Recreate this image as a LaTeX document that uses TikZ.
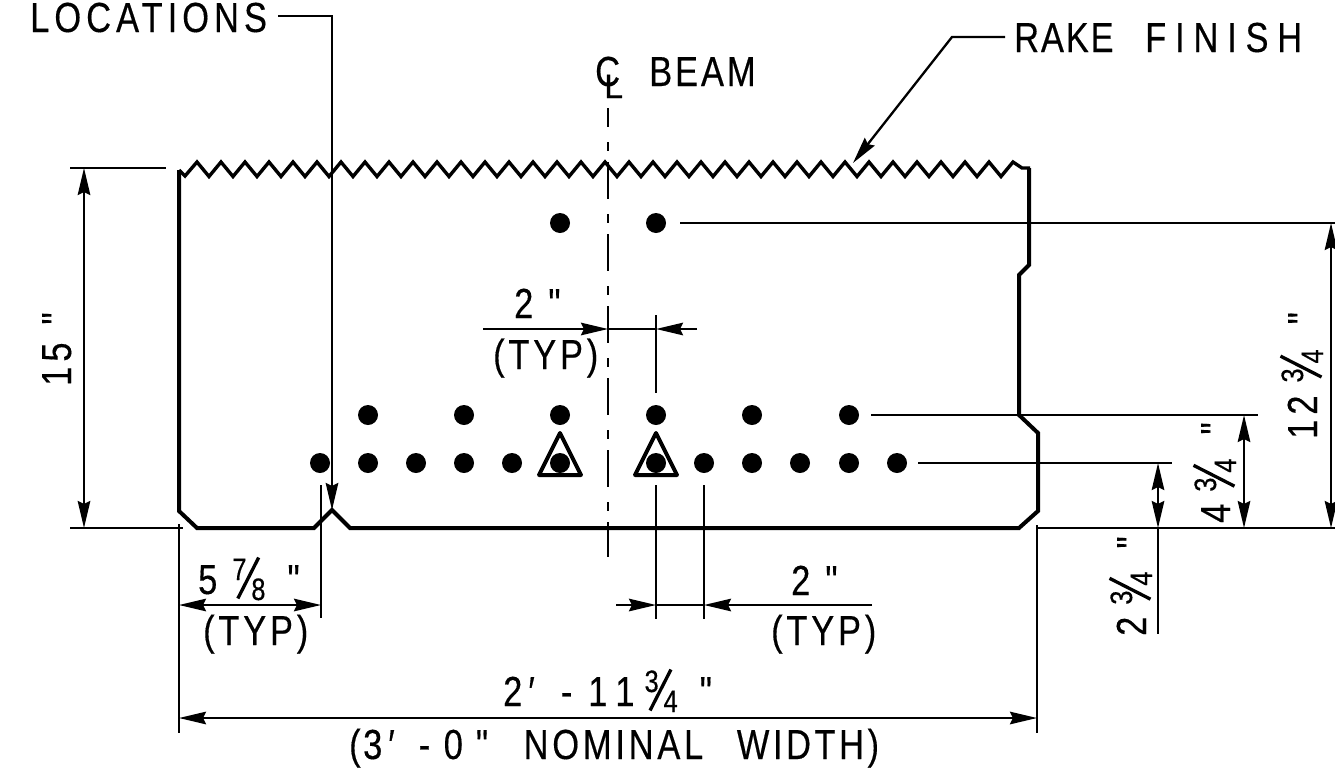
\documentclass[tikz,border=0pt]{standalone}
\usepackage{fontspec}
\usepackage{graphicx}
\setmainfont{Liberation Sans}
\newfontface\cadface{Liberation Sans}[FakeStretch=0.82,FakeBold=0.35]
\newfontface\cadwide{Liberation Sans}[FakeBold=0.35]
\usetikzlibrary{arrows.meta}
\newcommand{\lsp}[1]{\addfontfeature{LetterSpace=#1}}
\newcommand{\cadfrac}[2]{{\fontsize{31}{31}\selectfont\rlap{\raisebox{14pt}{#1}}\rlap{\kern 4pt\raisebox{-7pt}{\rotatebox[origin=c]{-27}{\rule{3.3pt}{46pt}}}}\kern 19pt\raisebox{-6pt}{#2}}}
\tikzset{
  thin dim/.style={line width=2.3pt},
  outline/.style={line width=4pt,line join=miter},
  dimhead/.style={-{Stealth[length=27pt,width=12.5pt,inset=3pt]}},
  dimboth/.style={{Stealth[length=27pt,width=12.5pt,inset=3pt]}-{Stealth[length=27pt,width=12.5pt,inset=3pt]}},
  label/.style={inner sep=0pt,anchor=base west,font=\fontsize{42}{42}\selectfont\cadface},
  centre line/.style={line width=2.3pt,dash pattern=on 37pt off 15pt on 9pt off 11pt,dash phase=18pt},
  bolt/.style={circle,fill=black,minimum size=20pt,inner sep=0pt},
  marker/.style={line width=4pt,line join=round}
}
\begin{document}
\begin{tikzpicture}[x=1pt,y=-1pt]
\useasboundingbox (0,0) rectangle (1335,774);

% outline with raked top
\draw[outline] (1029,168) -- (1029,265) -- (1019,275) -- (1019,415) -- (1038,433) -- (1038,511) -- (1019,528)
  -- (350,528) -- (332,510) -- (314,528) -- (197,528) -- (179,511) -- (179,170);
\draw[line width=3.4pt,line join=miter] (179,170) -- (185,176)
  \foreach \k in {0,...,33} { -- ({197+24*\k},162) -- ({209+24*\k},176.5) }
  -- (1013,162) -- (1022,168) -- (1030,168);

% centre line
\draw[centre line] (608,108) -- (608,557);

% bolts
\foreach \x/\n in {560/a,656/b} \node[bolt] (t\n) at (\x,223) {};
\foreach \x/\n in {368/a,464/b,560/c,656/d,752/e,849/f} \node[bolt] (m\n) at (\x,415) {};
\foreach \x/\n in {320/a,368/b,416/c,464/d,512/e,560/f,656/g,704/h,752/i,800/j,849/k,897/l} \node[bolt] (l\n) at (\x,463) {};
\draw[marker] (560,433) -- (581,475) -- (539,475) -- cycle;
\draw[marker] (656,433) -- (677,475) -- (635,475) -- cycle;

% extension lines
\draw[thin dim] (70,168) -- (166,168);
\draw[thin dim] (70,528) -- (183,528);
\draw[thin dim] (1037,528) -- (1335,528);
\draw[thin dim] (680,223) -- (1335,223);
\draw[thin dim] (871,415) -- (1258,415);
\draw[thin dim] (918,463) -- (1172,463);
\draw[thin dim] (179,524) -- (179,733);
\draw[thin dim] (1037,525) -- (1037,733);
\draw[thin dim] (321,485) -- (321,618);
\draw[thin dim] (656,315) -- (656,393);
\draw[thin dim] (656,485) -- (656,619);
\draw[thin dim] (704,485) -- (704,619);
\draw[thin dim] (1158,528) -- (1158,634);

% dimensions
\draw[thin dim,dimboth] (84,168) -- (84,528);
\draw[thin dim,dimboth] (1158,463) -- (1158,528);
\draw[thin dim,dimboth] (1244,415) -- (1244,528);
\draw[thin dim,dimboth] (1331,223) -- (1331,528);
\draw[thin dim,dimboth] (179,605) -- (321,605);
\draw[thin dim,dimboth] (179,718) -- (1037,718);
\draw[thin dim,dimhead] (483,329) -- (608,329);
\draw[thin dim,dimhead] (697,329) -- (656,329);
\draw[thin dim] (608,329) -- (656,329);
\draw[thin dim,dimhead] (616,605) -- (656,605);
\draw[thin dim,dimhead] (872,605) -- (704,605);
\draw[thin dim] (656,605) -- (704,605);

% leaders
\draw[thin dim,dimhead,line join=miter] (278,16) -- (332,16) -- (332,510);
\draw[thin dim,dimhead,line join=miter] (1005,37) -- (952,37) -- (853,163);

% labels
\node[label] (locations) at (30,32) {\lsp{12}LOCATIONS};
\node[label] (rake) at (1014,52) {{\lsp{4.5}RAKE} \kern 22pt{\lsp{21}FINISH}};
\node[label] (beam) at (649,86) {\lsp{7}BEAM};
\node[label] (clc) at (595,86) {C};
\node[inner sep=0pt,anchor=base west,font=\fontsize{34}{34}\selectfont\cadwide] (cll) at (604,98) {L};
\node[label] (twoa) at (514,318) {2\kern 15pt"};
\node[label] (typa) at (493,369) {\lsp{9}(TYP)};
\node[label] (fivee) at (198,594) {5\kern 15pt\cadfrac{7}{8}\kern 22pt"};
\node[label] (typb) at (203,645) {\lsp{9}(TYP)};
\node[label] (twob) at (791,595) {2\kern 15pt"};
\node[label] (typc) at (771,645) {\lsp{9}(TYP)};
\node[label] (width) at (503,706) {2\kern 6pt′\kern 26pt-\kern 16pt1\kern 8pt1\kern 10pt\cadfrac{3}{4}\kern 22pt"};
\node[label] (nominal) at (349,759) {(\kern 2.5pt3\kern 6pt′\kern 24pt-\kern 13.5pt0\kern 13pt" \kern 26pt{\lsp{9}NOMINAL} \kern 24pt{\lsp{8.5}WIDTH)}};
\node[label,rotate=90] (fifteen) at (71,386) {1\kern 5pt5\kern 18pt"};
\node[label,rotate=90] (twelve) at (1317,439) {1\kern 5pt2\kern 13pt\cadfrac{3}{4}\kern 25pt"};
\node[label,rotate=90] (fourt) at (1230,523) {4\kern 12pt\cadfrac{3}{4}\kern 24pt"};
\node[label,rotate=90] (twot) at (1146,636) {2\kern 12pt\cadfrac{3}{4}\kern 23pt"};
\end{tikzpicture}
\end{document}
